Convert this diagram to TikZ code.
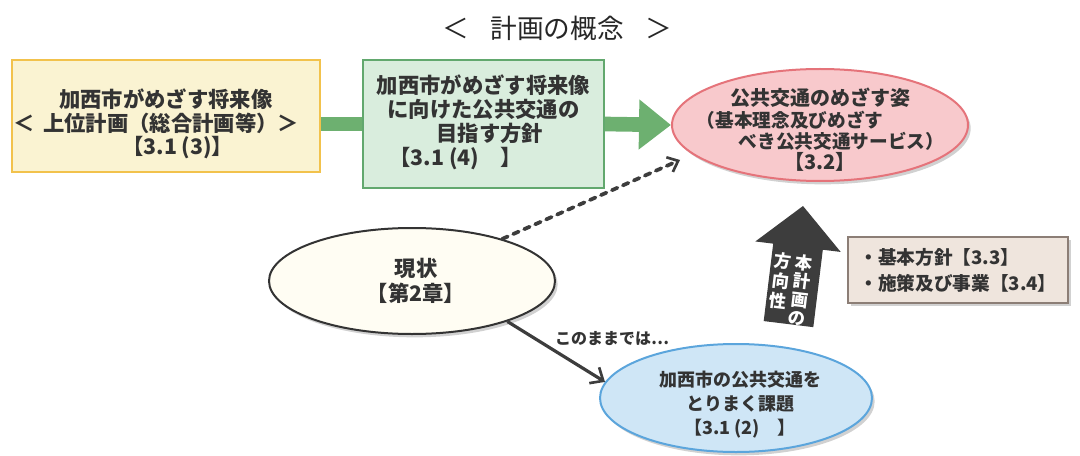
\documentclass[tikz,border=0pt]{standalone}
\usepackage{fontspec}
\newfontfamily\jp{Noto Sans CJK JP}[BoldFont={Noto Sans CJK JP Black}]
\usetikzlibrary{arrows.meta,shapes.geometric,shadows,calc}
\definecolor{txt}{HTML}{333333}
\definecolor{yfill}{HTML}{FAF3D2}
\definecolor{ydraw}{HTML}{F2C24C}
\definecolor{gfill}{HTML}{D9EDDD}
\definecolor{gdraw}{HTML}{62A86E}
\definecolor{garrow}{HTML}{6DB070}
\definecolor{rfill}{HTML}{F8C9CC}
\definecolor{rdraw}{HTML}{E5737A}
\definecolor{bfill}{HTML}{CFE6F6}
\definecolor{bdraw}{HTML}{5BA5DC}
\definecolor{cfill}{HTML}{FFFDF3}
\definecolor{cdraw}{HTML}{333333}
\definecolor{pfill}{HTML}{EFE5DD}
\definecolor{pdraw}{HTML}{8C7E76}
\definecolor{dark}{HTML}{3D3D3D}
\tikzset{
  boxshape/.style={rectangle, draw, line width=1.5pt, inner sep=0pt},
  ellshape/.style={ellipse, draw, line width=1.5pt, inner sep=0pt},
  soft/.style={drop shadow={shadow xshift=2pt, shadow yshift=-2.5pt, opacity=0.3, fill=black!60}},
  txtnode/.style={align=center, text=txt, font=\jp\bfseries},
  darrow/.style={draw=dark, line width=2.4pt, line cap=round},
  vcol/.style={transform shape, align=center, text=white, font=\jp\bfseries\fontsize{13}{14}\selectfont},
}
\begin{document}
\begin{tikzpicture}[x=0.75pt, y=-0.75pt]
\useasboundingbox (0,0) rectangle (1080,456);

% title
\node[text=black!85, font=\jp\fontsize{20}{22}\selectfont] (title) at (557,28) {＜\hspace{0.8em}計画の概念\hspace{0.8em}＞};

% yellow box
\node[boxshape, draw=ydraw, fill=yfill, minimum width=308*0.75pt, minimum height=112*0.75pt] (yellow) at (166,116) {};
\node[txtnode, font=\jp\bfseries\fontsize{16}{17.6}\selectfont] (ytext) at (166,124)
  {加西市がめざす将来像\\＜\hspace{0.4em}上位計画（総合計画等）＞\hspace*{0.9em}\mbox{}\\\hspace*{1.1em}【3.1 (3)】};

% green box
\node[boxshape, draw=gdraw, fill=gfill, minimum width=241*0.75pt, minimum height=128*0.75pt] (green) at (483.5,124) {};
\node[txtnode, font=\jp\bfseries\fontsize{16}{18}\selectfont] (gtext) at (483.5,122)
  {加西市がめざす将来像\\に向けた公共交通の\\\hspace*{0.6em}目指す方針\\【3.1 (4)　】\hspace*{2.6em}\mbox{}};

% red ellipse
\node[ellshape, draw=rdraw, fill=rfill, soft, minimum width=296*0.75pt, minimum height=112*0.75pt] (red) at (820,125) {};
\node[txtnode, font=\jp\bfseries\fontsize{14}{16}\selectfont] (rtext) at (820,130)
  {{\fontsize{15}{16}\selectfont 公共交通のめざす姿}\\（基本理念及びめざす\hspace*{3.2em}\mbox{}\\\hspace*{2.3em}べき公共交通サービス）\\{\fontsize{15}{16}\selectfont【3.2】}};

% current state ellipse
\node[ellshape, draw=cdraw, fill=cfill, soft, minimum width=286*0.75pt, minimum height=106*0.75pt] (current) at (412,281) {};
\node[txtnode, font=\jp\bfseries\fontsize{16}{19}\selectfont] (ctext) at (416,281)
  {現状\\【第2章】};

% blue ellipse
\node[ellshape, draw=bdraw, fill=bfill, soft, minimum width=272*0.75pt, minimum height=108*0.75pt] (blue) at (736,398) {};
\node[txtnode, font=\jp\bfseries\fontsize{13.5}{18}\selectfont] (btext) at (740,405)
  {加西市の公共交通を\\とりまく課題\\【3.1 (2)　】};

% plan box
\node[boxshape, draw=pdraw, fill=pfill, soft, line width=1.2pt, minimum width=220*0.75pt, minimum height=66*0.75pt] (plan) at (958,270) {};
\node[txtnode, align=left, font=\jp\bfseries\fontsize{14}{19.5}\selectfont] (ptext) at (958,270)
  {・基本方針【3.3】\\・施策及び事業【3.4】};

% green connectors
\draw[garrow, line width=11pt] (yellow.east |- green.center) -- (green.west);
\draw[garrow, line width=11pt, -{Triangle[length=24pt, width=36pt]}] (green.east) -- (red.west);

% dashed arrow
\draw[darrow, line width=2.8pt, dash pattern=on 4.5pt off 4.5pt, -{Straight Barb[length=7pt, width=12pt, line width=2pt]}] (current.25) -- ($(red.west)+(9,35)$);

% solid arrow with label
\draw[darrow, line cap=butt, -{Straight Barb[length=8pt, width=14pt, line width=2pt]}] (current.-23) -- (blue.173);
\node[text=txt, font=\jp\bfseries\fontsize{12}{14}\selectfont] (lbl) at (612,339) {このままでは…};

% big direction arrow
\begin{scope}[shift={(803,206)}, rotate=-7]
  \fill[dark] (0,0) -- (43,41) -- (25,41) -- (25,119) -- (-25,119) -- (-25,41) -- (-43,41) -- cycle;
  \node[vcol] (colR) at (8,84) {本\\計\\画\\の};
  \node[vcol, font=\jp\bfseries\fontsize{13}{15}\selectfont] (colL) at (-13,77) {方\\向\\性};
\end{scope}
\end{tikzpicture}
\end{document}
